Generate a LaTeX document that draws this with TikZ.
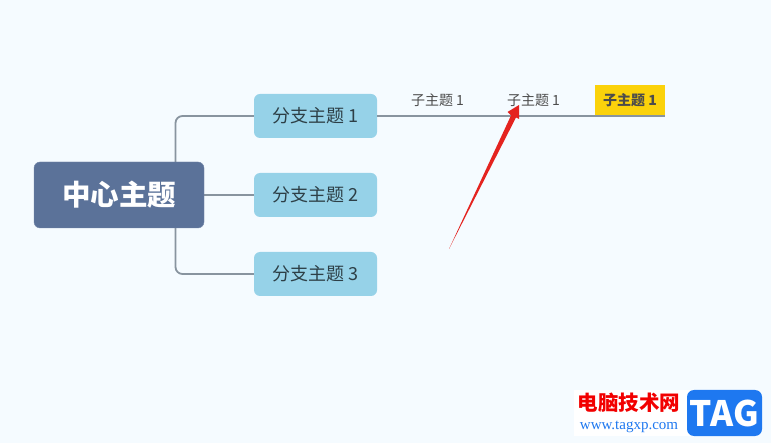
\documentclass[tikz,border=0pt]{standalone}
\usepackage{fontspec}
\setmainfont{Noto Sans CJK SC}
\newfontfamily\urlfont{Liberation Serif}
\definecolor{pagebg}{HTML}{F5FBFF}
\definecolor{rootblue}{HTML}{5B7299}
\definecolor{branchblue}{HTML}{96D2E8}
\definecolor{linegray}{HTML}{88949F}
\definecolor{subyellow}{HTML}{FBD20B}
\definecolor{arrowred}{HTML}{E4231F}
\definecolor{tagblue}{HTML}{1E78F0}
\tikzset{
  roottopic/.style={fill=rootblue,draw=rootblue!85!white,rounded corners=6pt,minimum width=170pt,minimum height=66pt,
    inner sep=0pt,text=white,font=\fontsize{28.5}{28.5}\selectfont\bfseries},
  branchtopic/.style={fill=branchblue,rounded corners=6pt,minimum width=123pt,minimum height=44pt,
    inner sep=0pt,text=black!70!branchblue,font=\fontsize{18}{18}\selectfont},
  subtopic/.style={inner sep=0pt,text=black!70,font=\fontsize{14}{14}\selectfont},
  link/.style={draw=linegray,line width=1.8pt,rounded corners=7pt}
}
\begin{document}
\begin{tikzpicture}[x=1pt,y=-1pt]
  \fill[pagebg] (0,0) rectangle (771,443);
  \useasboundingbox (0,0) rectangle (771,443);
  % topics
  \node[branchtopic] (branchA) at (315.5,116) {分支主题 1};
  \node[branchtopic] (branchB) at (315.5,195) {分支主题 2};
  \node[branchtopic] (branchC) at (315.5,274) {分支主题 3};
  \coordinate (trunkup) at (175.5,162);
  \coordinate (trunkdown) at (175.5,228);
  \node[subtopic] (subA) at (437.5,100) {子主题 1};
  \node[subtopic] (subB) at (533.5,100) {子主题 1};
  \node[subtopic,fill=subyellow,minimum width=70pt,minimum height=31pt,font=\fontsize{14}{14}\selectfont\bfseries] (subC) at (630,100.5) {子主题 1};
  % connectors
  \draw[link] (trunkup) |- (branchA.west);
  \draw[link] (trunkdown) |- (branchC.west);
  \draw[link] (branchB.west) -- ++(-60,0);
  \draw[link] (branchA.east) -- (branchA.east -| subC.east);
  \node[roottopic] (root) at (119,195) {中心主题};
  % red arrow
  \fill[arrowred] (449,249) -- (511,115.5) -- (507.5,112) -- (519,105) -- (519,119) -- (516,117.5) -- cycle;
  % watermark
  \fill[white] (574,390) rectangle (690,436);
  \node[text=red!95!black,font=\fontsize{20.5}{20.5}\selectfont\bfseries,inner sep=0pt] (siteName) at (629,403) {电脑技术网};
  \node[text=tagblue,font=\urlfont\fontsize{15}{15}\selectfont,inner sep=0pt] (siteUrl) at (629,427) {www.tagxp.com};
  \node[fill=tagblue,rounded corners=7pt,minimum width=75pt,minimum height=46pt,inner sep=0pt,text=white,
    font=\fontsize{35}{35}\selectfont\bfseries] (tagbox) at (724.5,413) {TAG};
\end{tikzpicture}
\end{document}
